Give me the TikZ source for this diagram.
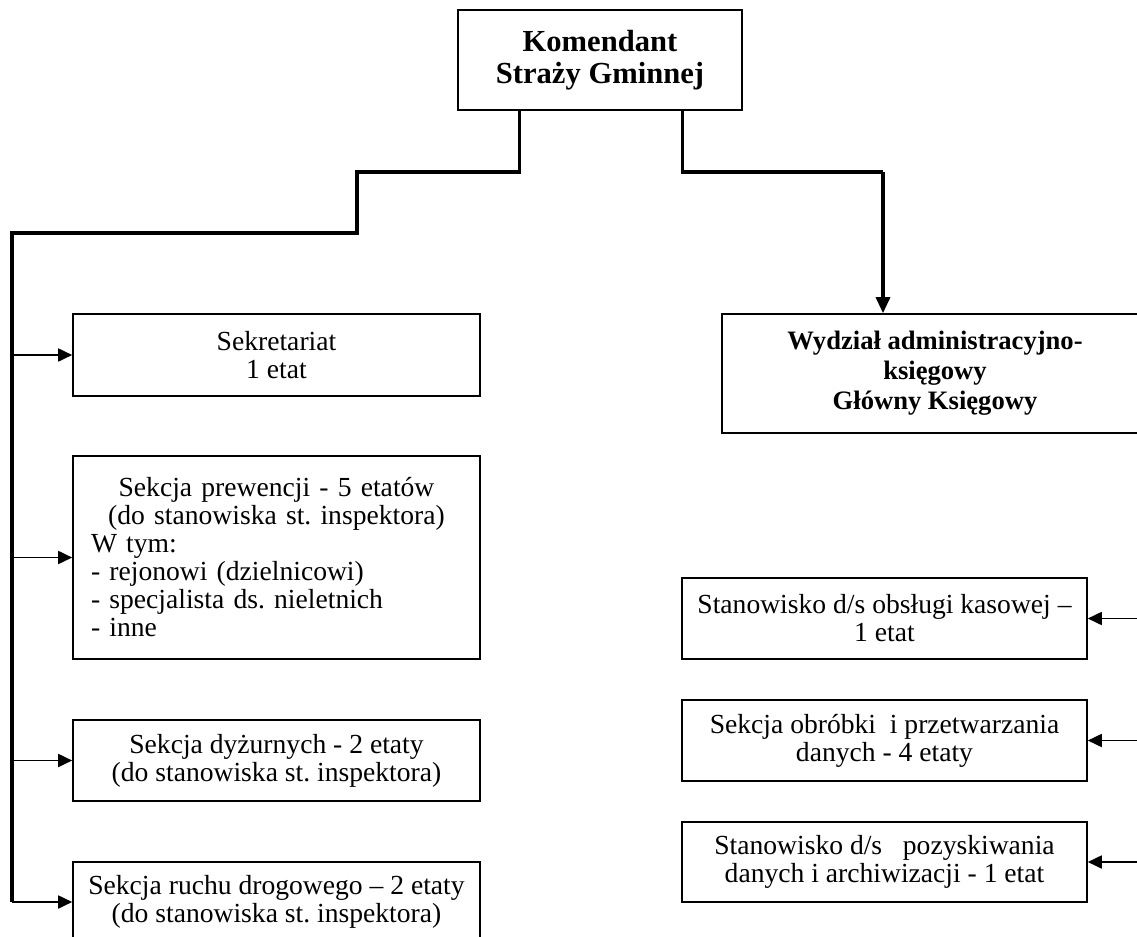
\documentclass[tikz,border=0pt]{standalone}
\usepackage{fontspec}
\setmainfont{Liberation Serif}
\usetikzlibrary{arrows.meta}
\frenchspacing

\begin{document}
\begin{tikzpicture}[x=0.5pt,y=-0.5pt,
    box/.style={draw,line width=0.8pt,align=center,inner sep=0pt,font=\fontsize{13.8}{14}\selectfont},
    conn/.style={line width=1.6pt},
    arr/.style={line width=0.9pt,-{Triangle[length=7pt,width=6.5pt]}}]
    \clip (0,0) rectangle (1137,937);

    \node[box,font=\fontsize{15.3}{16}\selectfont\bfseries,minimum width=142pt,minimum height=50pt] (kom) at (600,60) {Komendant\\Straży Gminnej};

    % lewa strona
    \node[box,minimum width=203.5pt,minimum height=41pt] (sekr) at (276.5,355) {Sekretariat\\1 etat};
    \node[box,minimum height=101.5pt,text width=185.5pt,align=left,inner xsep=9pt] (prew) at (276.5,557.5)
        {{\centering Sekcja prewencji - 5 etatów\\(do stanowiska st. inspektora)\par}
         W tym:\\- rejonowi (dzielnicowi)\\- specjalista ds. nieletnich\\- inne};
    \node[box,minimum width=203.5pt,minimum height=40.5pt] (dyz) at (276.5,760.5) {Sekcja dyżurnych - 2 etaty\\(do stanowiska st. inspektora)};
    \node[box,minimum width=203.5pt,minimum height=40pt] (ruch) at (276.5,902) {Sekcja ruchu drogowego – 2 etaty\\(do stanowiska st. inspektora)};

    % prawa strona
    \node[box,font=\fontsize{13.3}{15}\selectfont\bfseries,minimum width=213pt,minimum height=59.5pt] (wyd) at (935,373.5) {Wydział administracyjno-\\ księgowy\\ Główny Księgowy};
    \node[box,minimum width=202.5pt,minimum height=40.5pt] (kas) at (884.5,618.5) {Stanowisko d/s obsługi kasowej –\\1 etat};
    \node[box,minimum width=202.5pt,minimum height=40.5pt] (obr) at (884.5,740.5) {Sekcja obróbki\ \ i przetwarzania\\danych - 4 etaty};
    \node[box,minimum width=202.5pt,minimum height=40pt] (poz) at (884.5,862) {Stanowisko d/s\ \ \ pozyskiwania\\danych i archiwizacji - 1 etat};

    \coordinate (lbend) at (357,172);
    \coordinate (trunk) at (12,233);
    \coordinate (rbend) at (883,172);
    \coordinate (redge) at (1137,0);

    \draw[conn] ([xshift=31pt]kom.south west) |- (lbend) |- (trunk) -- (trunk |- ruch.west);
    \foreach \b in {sekr,prew,dyz,ruch}
        \draw[arr] (trunk |- \b.west) -- (\b.west);

    \draw[conn] ([xshift=-30pt]kom.south east) |- (rbend);
    \draw[conn,-{Triangle[length=8pt,width=7pt]}] (rbend) -- (rbend |- wyd.north);
    \foreach \b in {kas,obr,poz}
        \draw[arr] (redge |- \b.east) -- (\b.east);
\end{tikzpicture}
\end{document}
